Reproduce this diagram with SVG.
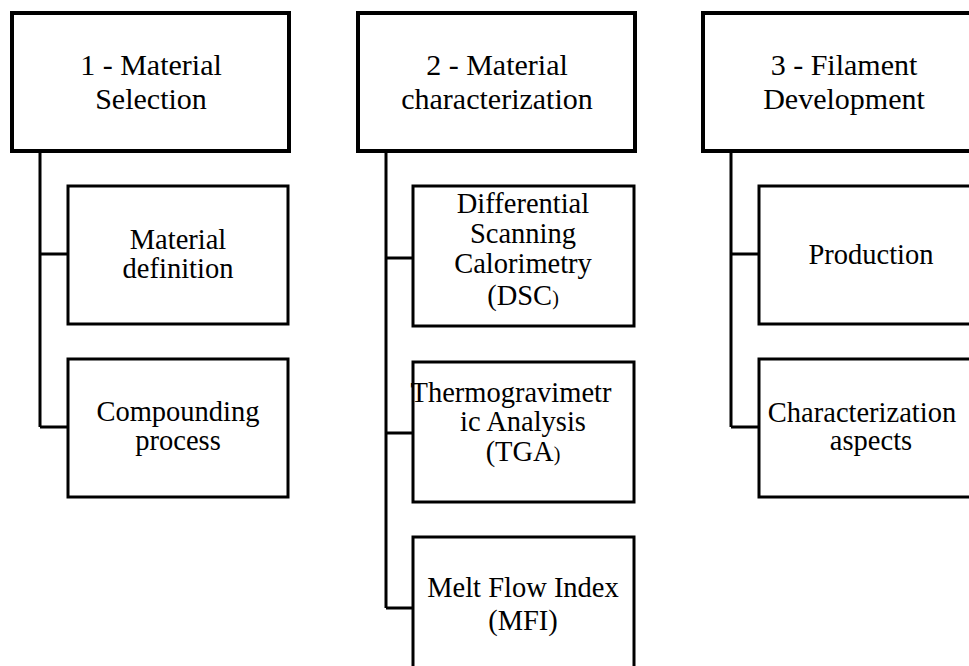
<svg xmlns="http://www.w3.org/2000/svg" width="969" height="666" viewBox="0 0 969 666">
<style>
.top{fill:#fff;stroke:#000;stroke-width:4}
.sub{fill:#fff;stroke:#000;stroke-width:3}
.conn{fill:none;stroke:#000;stroke-width:3}
text{font-family:"Liberation Serif","Times New Roman",serif;fill:#000;text-anchor:middle}
.t1{font-size:30px}
.t2{font-size:28.5px}
.sm{font-size:20px}
</style>
<rect width="969" height="666" fill="#fff"/>
<g id="connectors">
<path class="conn" d="M40 151 V427 M40 254 H68 M40 427 H68"/>
<path class="conn" d="M386 151 V608 M386 258 H413 M386 433 H413 M386 608 H413"/>
<path class="conn" d="M731 151 V427 M731 254 H759 M731 427 H759"/>
</g>
<g id="n1">
<rect class="top" x="12" y="13" width="277" height="138"/>
<text class="t1" x="151" y="75">1 - Material</text>
<text class="t1" x="151" y="109">Selection</text>
</g>
<g id="n1a">
<rect class="sub" x="68" y="186" width="220" height="138"/>
<text class="t2" x="178" y="249">Material</text>
<text class="t2" x="178" y="278">definition</text>
</g>
<g id="n1b">
<rect class="sub" x="68" y="359" width="220" height="138"/>
<text class="t2" x="178" y="421">Compounding</text>
<text class="t2" x="178" y="450">process</text>
</g>
<g id="n2">
<rect class="top" x="358" y="13" width="277" height="138"/>
<text class="t1" x="497" y="75">2 - Material</text>
<text class="t1" x="497" y="109">characterization</text>
</g>
<g id="n2a">
<rect class="sub" x="413" y="186" width="221" height="140"/>
<text class="t2" x="523" y="213">Differential</text>
<text class="t2" x="523" y="243">Scanning</text>
<text class="t2" x="523" y="273">Calorimetry</text>
<text class="t2" x="523" y="305">(DSC<tspan class="sm">)</tspan></text>
</g>
<g id="n2b">
<rect class="sub" x="413" y="362" width="221" height="140"/>
<text class="t2" x="511" y="402">Thermogravimetr</text>
<text class="t2" x="523" y="431">ic Analysis</text>
<text class="t2" x="523" y="461">(TGA<tspan class="sm">)</tspan></text>
</g>
<g id="n2c">
<rect class="sub" x="413" y="537" width="221" height="140"/>
<text class="t2" x="523" y="597">Melt Flow Index</text>
<text class="t2" x="523" y="630">(MFI)</text>
</g>
<g id="n3">
<rect class="top" x="703" y="13" width="281" height="138"/>
<text class="t1" x="844" y="75">3 - Filament</text>
<text class="t1" x="844" y="109">Development</text>
</g>
<g id="n3a">
<rect class="sub" x="759" y="186" width="225" height="138"/>
<text class="t2" x="871" y="264">Production</text>
</g>
<g id="n3b">
<rect class="sub" x="759" y="359" width="225" height="138"/>
<text class="t2" x="862" y="422">Characterization</text>
<text class="t2" x="871" y="450">aspects</text>
</g>
</svg>
